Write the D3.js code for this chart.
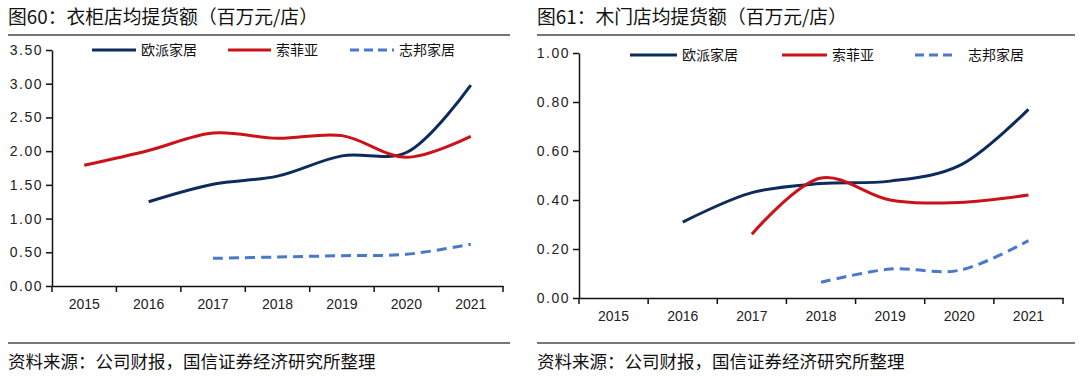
<!DOCTYPE html>
<html>
<head>
<meta charset="utf-8">
<script src="https://d3js.org/d3.v7.min.js"></script>
<style>
    body { margin: 0; background: #fff; }
    svg { display: block; }
    .title { font-family: "Noto Sans CJK SC", sans-serif; font-size: 18.8px; fill: #111; }
    .source { font-family: "Noto Sans CJK SC", sans-serif; font-size: 17.5px; fill: #111; }
    .legend-text { font-family: "Noto Sans CJK SC", sans-serif; font-size: 14px; fill: #111; }
    .tick text { font-family: "Liberation Sans", Arial, sans-serif; font-size: 14px; fill: #222; }
    .y-axis .tick text { letter-spacing: 1.5px; }
    .domain, .tick line { stroke: #111; stroke-width: 1.5; }
    .rule { stroke: #777; stroke-width: 2; }
</style>
</head>
<body>
<svg id="chart" width="1080" height="376"></svg>
<script>
const years = ["2015", "2016", "2017", "2018", "2019", "2020", "2021"];
const seriesNames = ["欧派家居", "索菲亚", "志邦家居"];
const seriesColors = ["#0d2c5c", "#cc1219", "#4a78cc"];

// 衣柜店均提货额
const wardrobeOppein = [null, 1.25, 1.51, 1.63, 1.93, 1.98, 2.98];
const wardrobeSuofeiya = [1.79, 2.01, 2.27, 2.19, 2.23, 1.91, 2.22];
const wardrobeZbom = [null, null, 0.41, 0.43, 0.45, 0.47, 0.62];
const wardrobeTicks = [0, 0.5, 1, 1.5, 2, 2.5, 3, 3.5];

// 木门店均提货额
const doorOppein = [null, 0.31, 0.43, 0.467, 0.477, 0.54, 0.77];
const doorSuofeiya = [null, null, 0.26, 0.49, 0.40, 0.39, 0.42];
const doorZbom = [null, null, null, 0.064, 0.118, 0.113, 0.234];
const doorTicks = [0, 0.2, 0.4, 0.6, 0.8, 1.0];

const svg = d3.select("#chart");

const panels = [
    {
        title: "图60：衣柜店均提货额（百万元/店）",
        left: 8, right: 510,
        plot: { x0: 52, x1: 503, y0: 286, y1: 50 },
        yMax: 3.5, ticks: wardrobeTicks,
        series: [wardrobeOppein, wardrobeSuofeiya, wardrobeZbom],
        legendY: 50,
        legend: [{ x: 92, len: 44 }, { x: 228, len: 43 }, { x: 350, len: 44 }]
    },
    {
        title: "图61：木门店均提货额（百万元/店）",
        left: 537, right: 1075,
        plot: { x0: 579, x1: 1063, y0: 298, y1: 53 },
        yMax: 1.0, ticks: doorTicks,
        series: [doorOppein, doorSuofeiya, doorZbom],
        legendY: 55,
        legend: [{ x: 630, len: 47 }, { x: 782, len: 45 }, { x: 915, len: 38, textGap: 15 }]
    }
];

panels.forEach(drawPanel);

function drawPanel(p) {
    svg.append("text")
        .attr("class", "title")
        .attr("x", p.left)
        .attr("y", 24)
        .text(p.title);

    svg.append("line").attr("class", "rule")
        .attr("x1", p.left).attr("x2", p.right)
        .attr("y1", 35).attr("y2", 35);

    svg.append("line").attr("class", "rule")
        .attr("x1", p.left).attr("x2", p.right)
        .attr("y1", 343).attr("y2", 343);

    svg.append("text")
        .attr("class", "source")
        .attr("x", p.left)
        .attr("y", 368)
        .text("资料来源：公司财报，国信证券经济研究所整理");

    const x = d3.scaleBand()
        .domain(years)
        .range([p.plot.x0, p.plot.x1])
        .padding(0);

    const y = d3.scaleLinear()
        .domain([0, p.yMax])
        .range([p.plot.y0, p.plot.y1]);

    // y axis
    const yAxis = d3.axisLeft(y)
        .tickValues(p.ticks)
        .tickFormat(d3.format(".2f"))
        .tickSize(6)
        .tickSizeOuter(0)
        .tickPadding(3);

    svg.append("g")
        .attr("class", "y-axis")
        .attr("transform", "translate(" + p.plot.x0 + ",0)")
        .call(yAxis);

    // x axis: labels centred in bands, ticks on band edges
    const xAxis = d3.axisBottom(x)
        .tickSize(0)
        .tickSizeOuter(0)
        .tickPadding(13);

    const gx = svg.append("g")
        .attr("class", "x-axis")
        .attr("transform", "translate(0," + p.plot.y0 + ")")
        .call(xAxis);

    const edges = years.map(function(d) { return x(d); }).concat([x.range()[1]]);
    gx.selectAll(".edge")
        .data(edges)
        .enter()
        .append("line")
        .attr("class", "edge")
        .attr("x1", function(d) { return d; })
        .attr("x2", function(d) { return d; })
        .attr("y1", 0)
        .attr("y2", 6)
        .attr("stroke", "#111")
        .attr("stroke-width", 1.5);

    const line = d3.line()
        .defined(function(d) { return d !== null; })
        .x(function(d, i) { return x(years[i]) + x.bandwidth() / 2; })
        .y(function(d) { return y(d); })
        .curve(d3.curveCatmullRom.alpha(0.5));

    p.series.forEach(function(values, i) {
        svg.append("path")
            .datum(values)
            .attr("fill", "none")
            .attr("stroke", seriesColors[i])
            .attr("stroke-width", 3)
            .attr("stroke-dasharray", i === 2 ? "10,6" : null)
            .attr("d", line);
    });

    // legend
    p.legend.forEach(function(item, i) {
        svg.append("line")
            .attr("x1", item.x)
            .attr("x2", item.x + item.len)
            .attr("y1", p.legendY)
            .attr("y2", p.legendY)
            .attr("stroke", seriesColors[i])
            .attr("stroke-width", 3)
            .attr("stroke-dasharray", i === 2 ? "9,5" : null);

        svg.append("text")
            .attr("class", "legend-text")
            .attr("x", item.x + item.len + (item.textGap || 5))
            .attr("y", p.legendY + 5)
            .text(seriesNames[i]);
    });
}
</script>
</body>
</html>
